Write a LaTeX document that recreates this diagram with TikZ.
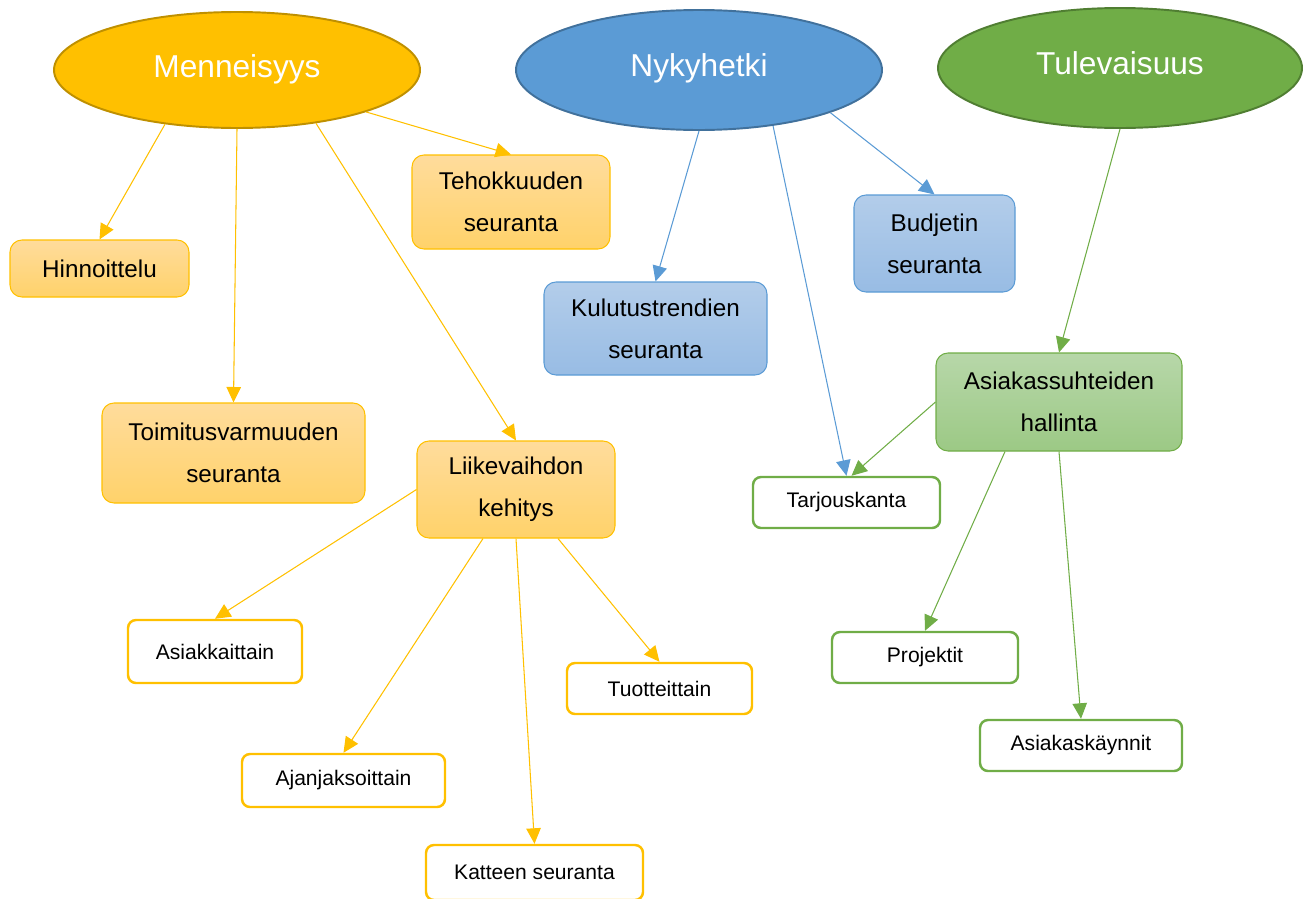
\documentclass[tikz,border=0pt]{standalone}
\usepackage{fontspec}
\setmainfont{Liberation Sans}
\usetikzlibrary{shapes.geometric,arrows.meta}

\definecolor{gold}{HTML}{FFC000}
\definecolor{golddark}{HTML}{BF9000}
\definecolor{goldtop}{HTML}{FFDC9C}
\definecolor{goldbot}{HTML}{FFD26A}
\definecolor{sky}{HTML}{5B9BD5}
\definecolor{skydark}{HTML}{41719C}
\definecolor{skytop}{HTML}{B3CDEA}
\definecolor{skybot}{HTML}{98BCE4}
\definecolor{leafgreen}{HTML}{70AD47}
\definecolor{leafdark}{HTML}{507E32}
\definecolor{leaftop}{HTML}{B7D7A9}
\definecolor{leafbot}{HTML}{9CC985}

\tikzset{
  era/.style={draw,ellipse,line width=1.1pt,inner sep=0pt,text=white,font=\fontsize{18}{22}\selectfont},
  box/.style={draw,rounded corners=0.24cm,line width=0.6pt,inner sep=0pt,align=center,font=\fontsize{13.8}{24}\selectfont},
  leaf/.style={draw,rounded corners=0.16cm,line width=1.4pt,fill=white,inner sep=0pt,font=\fontsize{12}{14}\selectfont},
  link/.style={line width=0.6pt,-{Triangle[length=0.31cm,width=0.29cm]}},
}

\begin{document}
\begin{tikzpicture}
        \useasboundingbox (0,0) rectangle (26.06,-17.98);
        %% Ellipses
        \node[era,fill=gold,draw=golddark,minimum width=7.32cm,minimum height=2.32cm] (men) at (4.74,-1.40) {\raisebox{0.16cm}{Menneisyys}};
        \node[era,fill=sky,draw=skydark,minimum width=7.32cm,minimum height=2.40cm] (nyk) at (13.98,-1.40) {\raisebox{0.20cm}{Nykyhetki}};
        \node[era,fill=leafgreen,draw=leafdark,minimum width=7.28cm,minimum height=2.40cm] (tul) at (22.40,-1.36) {\raisebox{0.20cm}{Tulevaisuus}};
        %% Filled boxes
        \node[box,draw=gold,top color=goldtop,bottom color=goldbot,minimum width=3.58cm,minimum height=1.14cm] (hin) at (1.99,-5.37) {Hinnoittelu};
        \node[box,draw=gold,top color=goldtop,bottom color=goldbot,minimum width=3.96cm,minimum height=1.88cm] (teh) at (10.22,-4.04) {Tehokkuuden\\seuranta};
        \node[box,draw=gold,top color=goldtop,bottom color=goldbot,minimum width=5.26cm,minimum height=2.00cm] (toi) at (4.67,-9.06) {Toimitusvarmuuden\\seuranta};
        \node[box,draw=gold,top color=goldtop,bottom color=goldbot,minimum width=3.96cm,minimum height=1.94cm] (lik) at (10.32,-9.79) {Liikevaihdon\\kehitys};
        \node[box,draw=sky,top color=skytop,bottom color=skybot,minimum width=4.46cm,minimum height=1.86cm] (kul) at (13.11,-6.57) {Kulutustrendien\\seuranta};
        \node[box,draw=sky,top color=skytop,bottom color=skybot,minimum width=3.22cm,minimum height=1.94cm] (bud) at (18.69,-4.87) {Budjetin\\seuranta};
        \node[box,draw=leafgreen,top color=leaftop,bottom color=leafbot,minimum width=4.92cm,minimum height=1.96cm] (asi) at (21.18,-8.04) {Asiakassuhteiden\\hallinta};
        %% White boxes
        \node[leaf,draw=gold,minimum width=3.48cm,minimum height=1.26cm] (ask) at (4.30,-13.03) {Asiakkaittain};
        \node[leaf,draw=gold,minimum width=3.70cm,minimum height=1.02cm] (tuo) at (13.19,-13.77) {Tuotteittain};
        \node[leaf,draw=gold,minimum width=4.06cm,minimum height=1.06cm] (aja) at (6.87,-15.61) {Ajanjaksoittain};
        \node[leaf,draw=gold,minimum width=4.34cm,minimum height=1.10cm] (kat) at (10.69,-17.45) {Katteen seuranta};
        \node[leaf,draw=leafgreen,minimum width=3.74cm,minimum height=1.02cm] (tar) at (16.93,-10.05) {Tarjouskanta};
        \node[leaf,draw=leafgreen,minimum width=3.72cm,minimum height=1.02cm] (pro) at (18.50,-13.15) {Projektit};
        \node[leaf,draw=leafgreen,minimum width=4.04cm,minimum height=1.02cm] (kay) at (21.62,-14.91) {Asiakaskäynnit};
        %% Arrows
        \draw[link,gold] (men.217) -- (hin.north);
        \draw[link,gold] (men.south) -- (toi.north);
        \draw[link,gold] (men.326) -- (lik.north);
        \draw[link,gold] (men.342) -- (teh.north);
        \draw[link,sky] (nyk.south) -- (kul.north);
        \draw[link,sky] (nyk.323) -- (tar.north);
        \draw[link,sky] (nyk.342) -- (bud.north);
        \draw[link,leafgreen] (tul.south) -- (asi.north);
        \draw[link,gold] (lik.west) -- (ask.north);
        \draw[link,gold] ([xshift=-0.66cm]lik.south) -- (aja.north);
        \draw[link,gold] (lik.south) -- (kat.north);
        \draw[link,gold] ([xshift=0.84cm]lik.south) -- (tuo.north);
        \draw[link,leafgreen] (asi.west) -- ([xshift=0.1cm]tar.north);
        \draw[link,leafgreen] ([xshift=-1.08cm]asi.south) -- (pro.north);
        \draw[link,leafgreen] (asi.south) -- (kay.north);
    \end{tikzpicture}
\end{document}
